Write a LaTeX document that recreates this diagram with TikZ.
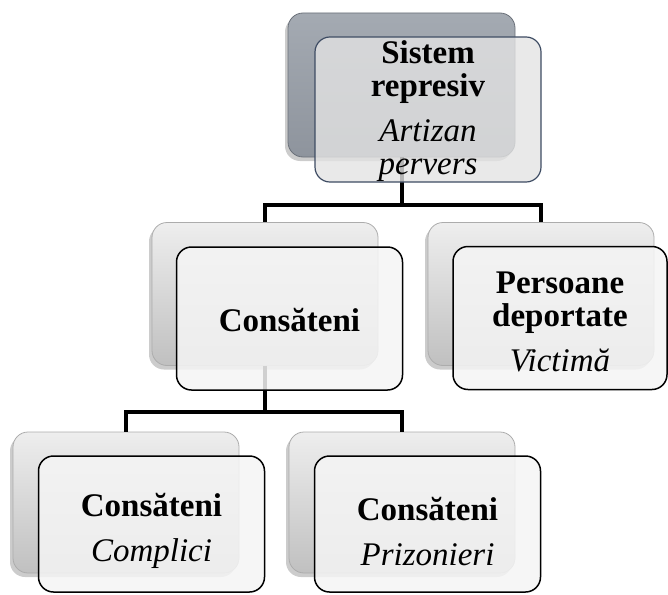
\documentclass[tikz,border=0pt]{standalone}
\usepackage{fontspec}
\setmainfont{Liberation Serif}
\usetikzlibrary{positioning,shadows}

\definecolor{slatetop}{HTML}{A4AAB2}
\definecolor{slatebot}{HTML}{8E949D}
\definecolor{slateline}{HTML}{6A7079}
\definecolor{slateedge}{HTML}{3E4C63}
\definecolor{greytop}{HTML}{EEEEEE}
\definecolor{greybot}{HTML}{C0C0C0}
\definecolor{paper}{HTML}{F5F5F5}

\tikzset{
  backbox/.style={draw=gray!65, line width=0.8pt, rounded corners=15pt,
    minimum width=226pt, minimum height=143pt,
    top color=greytop, bottom color=greybot,
    drop shadow={shadow xshift=-3pt, shadow yshift=-4pt, fill=black, opacity=0.2}},
  frontbox/.style={draw=black, line width=1.5pt, rounded corners=15pt,
    minimum width=226pt, minimum height=143pt, fill=paper,
    fill opacity=0.85, text opacity=1, align=center, inner sep=0pt,
    font=\fontsize{33}{33}\selectfont},
  conn/.style={line width=4pt, line join=miter}
}

\newcommand{\rolebox}[2]{\textbf{#1}\\[12pt]\textit{#2}}

\begin{document}
\begin{tikzpicture}[x=1pt,y=1pt]
  \useasboundingbox (0,0) rectangle (668,-594);

  % back boxes
  \node[backbox, draw=slateline, top color=slatetop, bottom color=slatebot,
    drop shadow={opacity=0}, minimum width=227pt, minimum height=144pt]
    (sysback) at (401.5,-85) {};
  \node[backbox] (satback) at (265,-294) {};
  \node[backbox] (depback) at (541,-294) {};
  \node[backbox, minimum height=141pt] (compback) at (126,-502.5) {};
  \node[backbox, minimum height=141pt] (prizback) at (402,-502.5) {};

  % connectors
  \coordinate (fork1) at (sysback.south |- 0,-205);
  \coordinate (fork2) at (satback.south |- 0,-412);
  \draw[conn] (sysback.south) -- (fork1) -| (satback.north);
  \draw[conn] (fork1) -| (depback.north);
  \draw[conn] (satback.south) -- (fork2) -| (compback.north);
  \draw[conn] (fork2) -| (prizback.north);

  % front boxes
  \node[frontbox, draw=slateedge, line width=1.2pt, fill=greytop!90!gray, fill opacity=0.8]
    (sysfront) at (428,-109.5) {\rule{0pt}{27pt}\textbf{Sistem}\\\textbf{represiv}\\[12pt]\textit{Artizan}\\\textit{pervers}};
  \node[frontbox] (satfront) at (289.5,-318.5) {\rule{0pt}{27pt}\textbf{Consăteni}};
  \node[frontbox, minimum width=214pt] (depfront) at (560,-318)
    {\rule{0pt}{30pt}\textbf{Persoane}\\\rolebox{deportate}{Victimă}};
  \node[frontbox, minimum height=136pt] (compfront) at (151.5,-524)
    {\rule{0pt}{38pt}\rolebox{Consăteni}{Complici}};
  \node[frontbox, minimum height=136pt] (prizfront) at (427.5,-524)
    {\rule{0pt}{38pt}\rolebox{Consăteni}{Prizonieri}};
\end{tikzpicture}
\end{document}
